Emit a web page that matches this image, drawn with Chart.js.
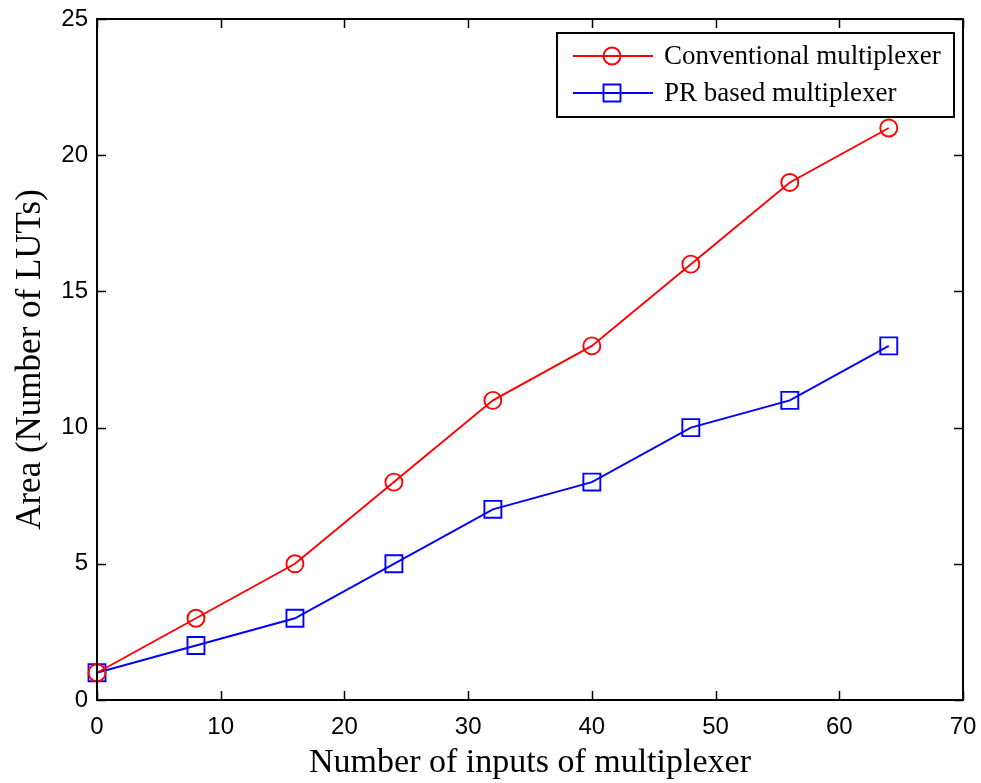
<!DOCTYPE html>
<html>
<head>
<meta charset="utf-8">
<script src="https://cdn.jsdelivr.net/npm/chart.js@4"></script>
<style>
  html, body { margin: 0; padding: 0; background: #fff; }
</style>
</head>
<body>
<canvas id="chart" width="981" height="783"></canvas>
<script>
// datos
const entradas = [0, 8, 16, 24, 32, 40, 48, 56, 64];
const convencional = [1, 3, 5, 8, 11, 13, 16, 19, 21];
const basadoPR = [1, 2, 3, 5, 7, 8, 10, 11, 13];
const etiquetas = ['Conventional multiplexer', 'PR based multiplexer'];
const tituloX = 'Number of inputs of multiplexer';
const tituloY = 'Area (Number of LUTs)';

const puntos = (ys) => entradas.map((x, k) => ({ x: x, y: ys[k] }));

const data = {
    datasets: [{
        label: etiquetas[0],
        data: puntos(convencional),
        borderColor: '#ff0000',
        backgroundColor: 'rgba(0,0,0,0)',
        borderWidth: 1.9,
        pointStyle: 'circle',
        pointRadius: 8.5,
        pointBorderWidth: 1.9,
        clip: false,
    }, {
        label: etiquetas[1],
        data: puntos(basadoPR),
        borderColor: '#0000ff',
        backgroundColor: 'rgba(0,0,0,0)',
        borderWidth: 1.9,
        pointStyle: 'rect',
        pointRadius: 12,
        pointBorderWidth: 1.9,
        clip: false,
    }]
}

//Marco, ticks hacia adentro y leyenda (estilo matlab)
const marco = {
    id: 'marco',
    afterDraw(chart) {
        const { ctx, chartArea: { left, right, top, bottom }, scales: { x, y } } = chart;
        ctx.save();
        ctx.strokeStyle = '#000';
        ctx.lineWidth = 1.5;
        const largo = 9;
        ctx.beginPath();
        x.ticks.forEach(t => {
            const px = Math.round(x.getPixelForValue(t.value)) + 0.5;
            ctx.moveTo(px, bottom); ctx.lineTo(px, bottom - largo);
            ctx.moveTo(px, top); ctx.lineTo(px, top + largo);
        });
        y.ticks.forEach(t => {
            const py = Math.round(y.getPixelForValue(t.value)) + 0.5;
            ctx.moveTo(left, py); ctx.lineTo(left + largo, py);
            ctx.moveTo(right, py); ctx.lineTo(right - largo, py);
        });
        ctx.stroke();
        ctx.lineWidth = 2;
        ctx.strokeRect(left, top, right - left, bottom - top);

        // leyenda
        const bx = 557, by = 33, bw = 397, bh = 84;
        ctx.fillStyle = '#fff';
        ctx.fillRect(bx, by, bw, bh);
        ctx.lineWidth = 2;
        ctx.strokeRect(bx, by, bw, bh);
        ctx.font = '27px "Liberation Serif", "Times New Roman", serif';
        ctx.textBaseline = 'middle';
        chart.data.datasets.forEach((ds, k) => {
            const fy = by + 23 + k * 37;
            ctx.strokeStyle = ds.borderColor;
            ctx.lineWidth = ds.borderWidth;
            ctx.beginPath();
            ctx.moveTo(573, fy); ctx.lineTo(653, fy);
            ctx.stroke();
            ctx.fillStyle = 'rgba(0,0,0,0)';
            Chart.helpers.drawPoint(ctx, {
                pointStyle: ds.pointStyle, radius: ds.pointRadius, rotation: 0, borderWidth: ds.pointBorderWidth
            }, 612, fy);
            ctx.fillStyle = '#000';
            ctx.fillText(ds.label, 664, fy + 1);
        });
        ctx.restore();
    }
}

const config = {
    type: 'line',
    data,
    options: {
        responsive: false,
        animation: false,
        layout: {
            padding: { top: 19, right: 18, bottom: 0, left: 0 }
        },
        plugins: {
            legend: { display: false },
            tooltip: { enabled: false }
        },
        scales: {
            x: {
                type: 'linear',
                min: 0,
                max: 70,
                afterFit: (s) => { s.height = 83; s.paddingLeft = 0; s.paddingRight = 0; },
                grid: { display: false, drawTicks: false },
                border: { display: false },
                ticks: {
                    stepSize: 10,
                    padding: 13,
                    color: '#000',
                    maxRotation: 0,
                    font: { family: '"Liberation Sans", Arial, sans-serif', size: 24 }
                },
                title: {
                    display: true,
                    text: tituloX,
                    color: '#000',
                    padding: { top: 2, bottom: 0 },
                    font: { family: '"Liberation Serif", "Times New Roman", serif', size: 34 }
                }
            },
            y: {
                min: 0,
                max: 25,
                afterFit: (s) => { s.width = 97; s.paddingTop = 0; s.paddingBottom = 0; },
                grid: { display: false, drawTicks: false },
                border: { display: false },
                ticks: {
                    stepSize: 5,
                    padding: 9,
                    color: '#000',
                    font: { family: '"Liberation Sans", Arial, sans-serif', size: 24 }
                },
                title: {
                    display: true,
                    text: tituloY,
                    color: '#000',
                    padding: { top: 10, bottom: 0 },
                    font: { family: '"Liberation Serif", "Times New Roman", serif', size: 35 }
                }
            }
        }
    },
    plugins: [marco],
}
var chart = document.getElementById('chart');
var myChart = new Chart(chart, config);
</script>
</body>
</html>
